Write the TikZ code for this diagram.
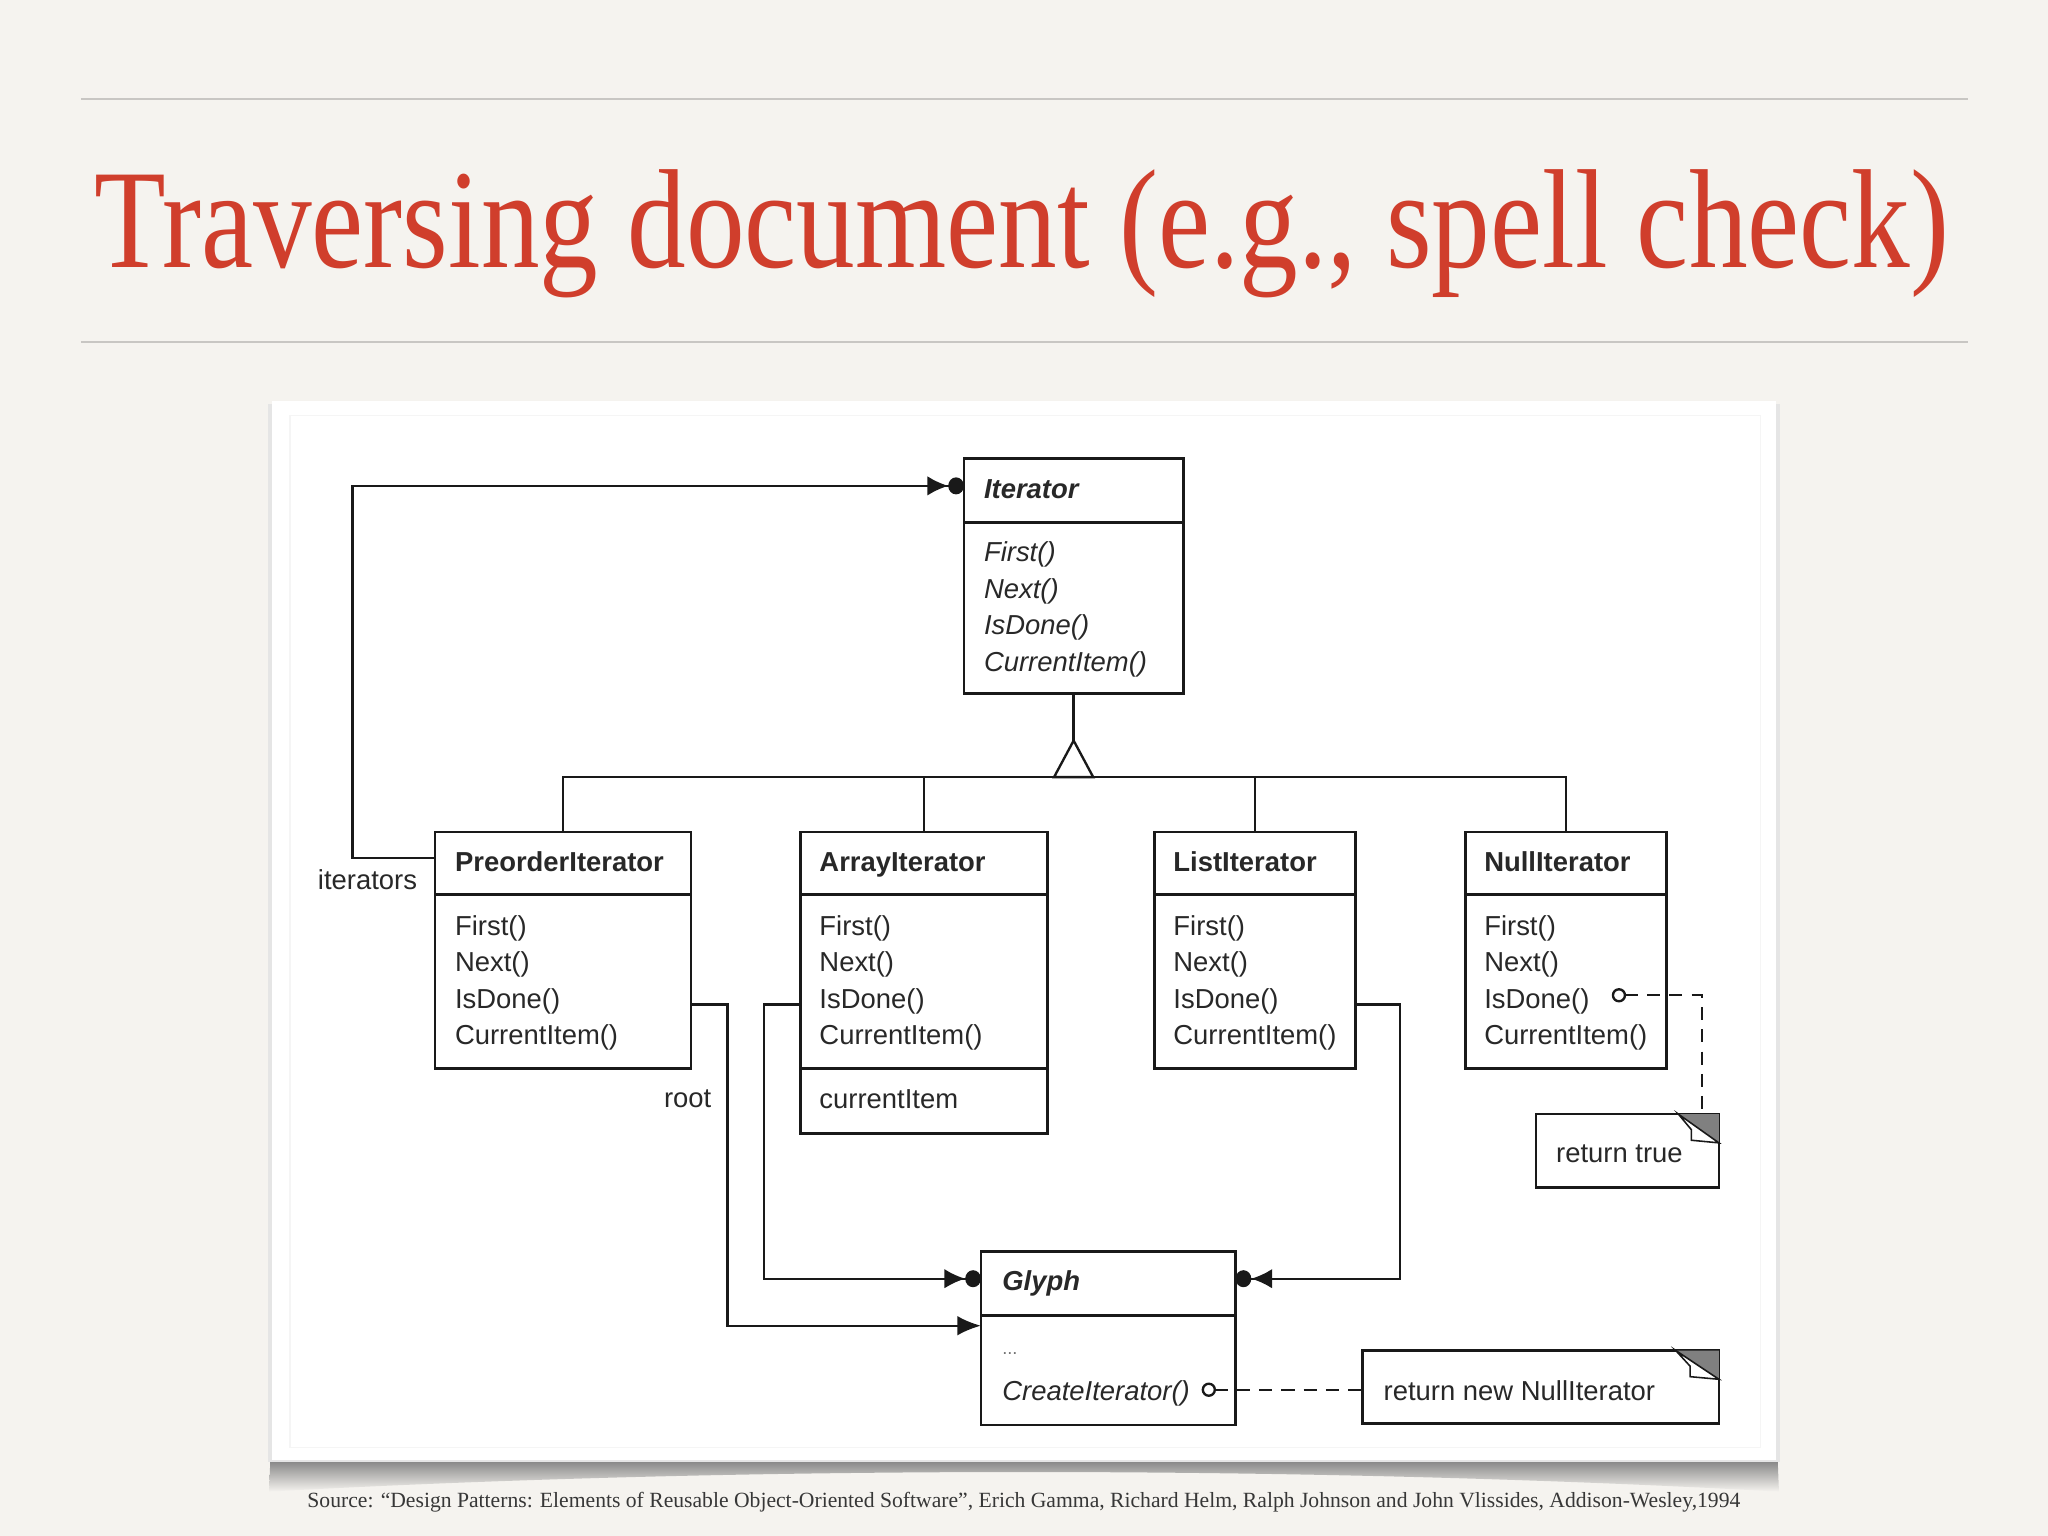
\documentclass[tikz,border=0pt]{standalone}
\usepackage{fontspec}
\setmainfont{Liberation Serif}
\newfontfamily\dfont{Liberation Sans}
\usetikzlibrary{arrows.meta,calc}
\definecolor{bg}{RGB}{245,243,239}
\definecolor{rulecol}{RGB}{200,198,195}
\definecolor{titlered}{RGB}{208,62,44}
\definecolor{srcgray}{RGB}{55,55,55}
\definecolor{linecol}{RGB}{25,25,25}
\definecolor{txtcol}{RGB}{40,40,40}
\definecolor{foldgray}{RGB}{128,128,128}
\begin{document}
\begin{tikzpicture}[x=0.5pt,y=-0.5pt,
  box/.style={draw=linecol, line width=1pt, inner sep=0pt, outer sep=0pt, anchor=north west, fill=white},
  hdr/.style={anchor=base west, inner sep=0pt, text=txtcol, font=\dfont\bfseries\fontsize{10.5}{12}\selectfont},
  hdri/.style={hdr, font=\dfont\bfseries\itshape\fontsize{10.5}{12}\selectfont},
  mth/.style={anchor=base west, inner sep=0pt, text=txtcol, font=\dfont\fontsize{10.5}{12}\selectfont},
  mthi/.style={mth, font=\dfont\itshape\fontsize{10.5}{12}\selectfont},
  sepline/.style={draw=linecol, line width=1pt},
  conn/.style={draw=linecol, line width=0.9pt},
  acqmany/.style={conn, -{Latex[length=8pt,width=7.5pt]Circle[length=6pt,width=6.5pt]}},
  acqone/.style={conn, -{Latex[length=9pt,width=7.5pt]}},
  notelink/.style={conn, dash pattern=on 5pt off 3.5pt, {Circle[length=5.5pt,width=5.5pt,fill=white]}-},
  fold/.style={fill=foldgray},
  flap/.style={fill=white, draw=linecol, line width=0.6pt}
]
% background
\fill[bg] (0,0) rectangle (1568,1176);
\useasboundingbox (0,0) rectangle (1568,1176);
% rules
\draw[rulecol, line width=0.8pt] (62,76) -- (1507,76);
\draw[rulecol, line width=0.8pt] (62,262) -- (1507,262);
% title
\node[anchor=base west, inner sep=0pt, text=titlered] (title) at (72,205)
  {\resizebox{710pt}{\height}{\fontsize{54}{54}\selectfont Traversing document (e.g., spell check)}};
% source
\node[anchor=base west, inner sep=0pt, text=srcgray] (src) at (235,1154)
  {\resizebox{548.5pt}{\height}{\fontsize{8.3}{10}\selectfont Source: “Design Patterns: Elements of Reusable Object-Oriented Software”, Erich Gamma, Richard Helm, Ralph Johnson and John Vlissides, Addison-Wesley,1994}};
% panel shadow and panel
\shade[top color=black!50, bottom color=bg] (207,1117) -- (1361,1117) -- (1362,1142) .. controls (1000,1122) and (570,1122) .. (206,1142) -- cycle;
\fill[black!10] (205,309) rectangle (1363,1119);
\fill[white] (208,307) rectangle (1360,1118);
\draw[black!4, line width=0.5pt] (222,318) rectangle (1348,1108);

% ---------- classes ----------
\node[box, minimum width=84pt, minimum height=90pt] (it) at (738,351) {};
\draw[sepline] (738,400) -- (906,400);
\node[hdri] (it-h) at (753,382) {Iterator};
\foreach \m [count=\i from 0] in {First(),Next(),IsDone(),CurrentItem()}
  \node[mthi] (it-m\i) at (753,{430+28*\i}) {\m};

\node[box, minimum width=98pt, minimum height=90.5pt] (pre) at (333,637) {};
\draw[sepline] (333,685) -- (529,685);
\node[hdr] (pre-h) at (348,667) {PreorderIterator};
\foreach \m [count=\i from 0] in {First(),Next(),IsDone(),CurrentItem()}
  \node[mth] (pre-m\i) at (348,{716+28*\i}) {\m};

\node[box, minimum width=94.5pt, minimum height=115.5pt] (arr) at (613,637) {};
\draw[sepline] (613,685) -- (802,685);
\draw[sepline] (613,818) -- (802,818);
\node[hdr] (arr-h) at (627,667) {ArrayIterator};
\foreach \m [count=\i from 0] in {First(),Next(),IsDone(),CurrentItem()}
  \node[mth] (arr-m\i) at (627,{716+28*\i}) {\m};
\node[mth] (arr-a) at (627,849) {currentItem};

\node[box, minimum width=77pt, minimum height=90.5pt] (lst) at (884,637) {};
\draw[sepline] (884,685) -- (1038,685);
\node[hdr] (lst-h) at (898,667) {ListIterator};
\foreach \m [count=\i from 0] in {First(),Next(),IsDone(),CurrentItem()}
  \node[mth] (lst-m\i) at (898,{716+28*\i}) {\m};

\node[box, minimum width=77pt, minimum height=90.5pt] (nul) at (1122,637) {};
\draw[sepline] (1122,685) -- (1276,685);
\node[hdr] (nul-h) at (1136,667) {NullIterator};
\foreach \m [count=\i from 0] in {First(),Next(),IsDone(),CurrentItem()}
  \node[mth] (nul-m\i) at (1136,{716+28*\i}) {\m};

\node[box, minimum width=97.5pt, minimum height=66.5pt] (gl) at (751,958) {};
\draw[sepline] (751,1007) -- (946,1007);
\node[hdri] (gl-h) at (767,988) {Glyph};
\node[mth, font=\dfont\fontsize{7}{8}\selectfont, text=black!55] (gl-d) at (767,1037) {...};
\node[mthi] (gl-m) at (767,1072) {CreateIterator()};

% ---------- notes ----------
\node[box, minimum width=136.5pt, minimum height=28pt] (n1) at (1043,1034) {};
\fill[fold] (1283,1034) -- (1316,1034) -- (1316,1056) -- cycle;
\draw[flap] (1283,1034) -- (1294,1046) -- (1294,1054) -- (1316,1056) -- cycle;
\node[mth] (n1-t) at (1059,1072) {return new NullIterator};

\node[box, minimum width=70pt, minimum height=28pt] (n2) at (1176,853) {};
\fill[fold] (1285,853) -- (1316,853) -- (1316,875) -- cycle;
\draw[flap] (1285,853) -- (1295,865) -- (1295,873) -- (1316,875) -- cycle;
\node[mth] (n2-t) at (1191,890) {return true};

% ---------- inheritance ----------
\coordinate (apex) at (822,567);
\coordinate (bus) at (822,595);
\draw[conn] (it.south) -- (apex);
\draw[conn] (pre.north) -- (pre.north |- bus) -- (nul.north |- bus) -- (nul.north);
\draw[conn] (arr.north) -- (arr.north |- bus);
\draw[conn] (lst.north) -- (lst.north |- bus);
\draw[conn, fill=white, line join=miter] (apex) -- (807,595) -- (837,595) -- cycle;

% ---------- associations ----------
\draw[acqmany] ([yshift=-10pt]pre.north west) -| (270,372) -- ([yshift=-10.5pt]it.north west);
\node[mth] (lbl-it) at (243,681) {iterators};

\draw[acqone] ([yshift=-66pt]pre.north east) -| (557,900) |- ([yshift=-28.5pt]gl.north west);
\node[mth] (lbl-root) at (508,848) {root};

\draw[acqmany] ([yshift=-66pt]arr.north west) -| (585,900) |- ([yshift=-10.5pt]gl.north west);
\draw[acqmany] ([yshift=-66pt]lst.north east) -| (1072,900) |- ([yshift=-10.5pt]gl.north east);

% ---------- note links ----------
\coordinate (cgl) at (920,1064);
\draw[notelink] (cgl) -- (cgl -| n1.west);
\coordinate (cnu) at (1234,762);
\draw[notelink] (cnu) -| ([xshift=-6.5pt]n2.north east);
\end{tikzpicture}
\end{document}
